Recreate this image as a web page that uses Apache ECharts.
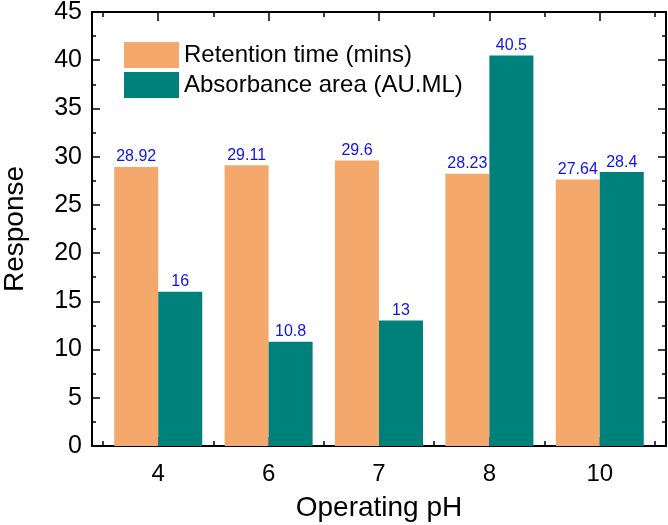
<!DOCTYPE html>
<html>
<head>
<meta charset="utf-8">
<script src="https://cdn.jsdelivr.net/npm/echarts@6/dist/echarts.min.js"></script>
<style>html,body{margin:0;padding:0;background:#fff;}#c{width:668px;height:525px;}</style>
</head>
<body>
<div id="c"></div>
<script>
const categories = ['4', '6', '7', '8', '10'];
const retentionTime = [28.92, 29.11, 29.6, 28.23, 27.64];
const absorbanceArea = [16, 10.8, 13, 40.5, 28.4];
const seriesNames = ['Retention time (mins)', 'Absorbance area (AU.ML)'];
const xTitle = 'Operating pH';
const yTitle = 'Response';

const FONT = '"Liberation Sans", Arial, sans-serif';
const positions = categories.map((c, i) => i + 1);
const boundaries = [0.5].concat(positions.map(p => p + 0.5));
const xMin = 0.4, xMax = 5.6;

const chart = echarts.init(document.getElementById('c'), null, {renderer: 'canvas'});

function frameX(pos, ticks, len, labels) {
  return {
    type: 'value', position: pos, min: xMin, max: xMax,
    axisLine: {show: true, onZero: false, lineStyle: {color: '#000', width: 2}},
    axisTick: {show: true, inside: true, length: len, customValues: ticks, lineStyle: {color: '#000', width: 1.5}},
    axisLabel: labels ? {
      show: true, customValues: ticks, fontSize: 24, color: '#000', fontFamily: FONT, margin: 16,
      formatter: v => categories[Math.round(v) - 1] || ''
    } : {show: false},
    splitLine: {show: false}
  };
}

const xAxes = [
  Object.assign(frameX('bottom', positions, 9, true), {
    name: xTitle, nameLocation: 'middle', nameGap: 48,
    nameTextStyle: {fontSize: 28, color: '#000', fontFamily: FONT}
  }),
  frameX('bottom', boundaries, 5, false),
  frameX('top', positions, 9, false),
  frameX('top', boundaries, 5, false)
];

function frameY(pos, labels) {
  return {
    type: 'value', position: pos, min: 0, max: 45, interval: 5,
    axisLine: {show: true, onZero: false, lineStyle: {color: '#000', width: 2}},
    axisTick: {show: true, inside: true, length: 8, lineStyle: {color: '#000', width: 1.5}},
    minorTick: {show: true, splitNumber: 2, length: 4, lineStyle: {color: '#000', width: 1.5}},
    axisLabel: labels ? {show: true, fontSize: 25, color: '#000', fontFamily: FONT, margin: 10} : {show: false},
    splitLine: {show: false},
    minorSplitLine: {show: false}
  };
}

const yAxes = [
  Object.assign(frameY('left', true), {
    name: yTitle, nameLocation: 'middle', nameGap: 63,
    nameTextStyle: {fontSize: 28, color: '#000', fontFamily: FONT}
  }),
  frameY('right', false)
];

const labelCfg = {show: true, position: 'top', distance: 2, color: '#1010F0', fontSize: 16, fontFamily: FONT};

chart.setOption({
  animation: false,
  backgroundColor: '#fff',
  grid: {left: 92, right: 2, top: 12, bottom: 79, containLabel: false, outerBoundsMode: 'none'},
  legend: {
    show: true, orient: 'vertical', left: 119, top: 37,
    itemWidth: 55, itemHeight: 26, itemGap: 4, icon: 'rect',
    textStyle: {fontSize: 24, color: '#000', fontFamily: FONT},
    data: seriesNames
  },
  xAxis: xAxes,
  yAxis: yAxes,
  series: [
    {
      name: seriesNames[0], type: 'bar', xAxisIndex: 0, yAxisIndex: 0,
      barWidth: 44, barGap: '0%',
      itemStyle: {color: '#F4A86B'},
      label: labelCfg,
      data: positions.map((p, i) => [p, retentionTime[i]])
    },
    {
      name: seriesNames[1], type: 'bar', xAxisIndex: 0, yAxisIndex: 0,
      barWidth: 44, barGap: '0%',
      itemStyle: {color: '#00807B'},
      label: labelCfg,
      data: positions.map((p, i) => [p, absorbanceArea[i]])
    }
  ]
});
</script>
</body>
</html>
